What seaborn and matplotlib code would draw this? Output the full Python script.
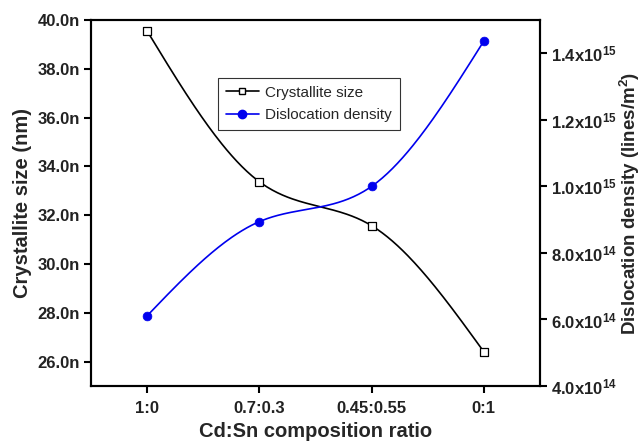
import numpy as np
import pandas as pd
import matplotlib
matplotlib.use("Agg")
import matplotlib.pyplot as plt
from matplotlib.lines import Line2D
from matplotlib.ticker import FuncFormatter, FixedLocator
import seaborn as sns

categories = ["1:0", "0.7:0.3", "0.45:0.55", "0:1"]
crystallite_nm = [39.55, 33.37, 31.57, 26.4]
dislocation = [6.11e14, 8.94e14, 1.0e15, 1.437e15]
left_ticks = [26, 28, 30, 32, 34, 36, 38, 40]
right_ticks = [4e14, 6e14, 8e14, 1.0e15, 1.2e15, 1.4e15]

sns.set_theme(style="ticks")
plt.rcParams["font.family"] = ["Liberation Sans", "DejaVu Sans"]
plt.rcParams["mathtext.default"] = "regular"


def natural_spline(x, y, n=200):
    x = np.asarray(x, float)
    y = np.asarray(y, float)
    k = len(x)
    h = np.diff(x)
    A = np.zeros((k, k))
    b = np.zeros(k)
    A[0, 0] = 1
    A[-1, -1] = 1
    for i in range(1, k - 1):
        A[i, i - 1] = h[i - 1]
        A[i, i] = 2 * (h[i - 1] + h[i])
        A[i, i + 1] = h[i]
        b[i] = 3 * ((y[i + 1] - y[i]) / h[i] - (y[i] - y[i - 1]) / h[i - 1])
    c = np.linalg.solve(A, b)
    xs = np.linspace(x[0], x[-1], n)
    ys = np.empty_like(xs)
    for j, xv in enumerate(xs):
        i = min(np.searchsorted(x, xv, side="right") - 1, k - 2)
        dx = xv - x[i]
        bi = (y[i + 1] - y[i]) / h[i] - h[i] * (2 * c[i] + c[i + 1]) / 3
        di = (c[i + 1] - c[i]) / (3 * h[i])
        ys[j] = y[i] + bi * dx + c[i] * dx ** 2 + di * dx ** 3
    return xs, ys


xpos = np.arange(len(categories))
df = pd.DataFrame({"x": xpos, "cryst": crystallite_nm, "disl": dislocation})

fig = plt.figure(figsize=(6.41, 4.44), dpi=100)
ax = fig.add_axes([91 / 641, 1 - 386 / 444, (540 - 91) / 641, (386 - 20) / 444])
ax2 = ax.twinx()

xs, ys = natural_spline(xpos, crystallite_nm)
sns.lineplot(x=xs, y=ys, ax=ax, color="black", lw=1.2, sort=False)
sns.scatterplot(data=df, x="x", y="cryst", ax=ax, marker="s", s=28,
                facecolor="white", edgecolor="black", linewidth=0.9, zorder=5)

xs2, ys2 = natural_spline(xpos, dislocation)
sns.lineplot(x=xs2, y=ys2, ax=ax2, color="#0000ee", lw=1.2, sort=False)
sns.scatterplot(data=df, x="x", y="disl", ax=ax2, marker="o", s=40,
                color="#0000ee", edgecolor="#0000ee", zorder=5)

ax.set_xlim(-0.5, 3.5)
ax.set_ylim(25, 40)
ax2.set_ylim(4e14, 1.5e15)

ax.set_xticks(xpos)
ax.set_xticklabels(categories)
ax.yaxis.set_major_locator(FixedLocator(left_ticks))
ax.yaxis.set_major_formatter(FuncFormatter(lambda v, p: f"{v:.1f}n"))
ax2.yaxis.set_major_locator(FixedLocator(right_ticks))


def sci(v, p):
    e = int(np.floor(np.log10(v) + 1e-9))
    m = v / 10 ** e
    return f"{m:.1f}x10$^{{{e}}}$"


ax2.yaxis.set_major_formatter(FuncFormatter(sci))

for a in (ax, ax2):
    for s in a.spines.values():
        s.set_linewidth(1.5)
        s.set_color("black")
    a.tick_params(axis="both", direction="out", length=5, width=1.5,
                  labelsize=12, colors="black", pad=3)
    for lab in a.get_xticklabels() + a.get_yticklabels():
        lab.set_fontweight("bold")
        lab.set_color("#222222")

ax.tick_params(axis="x", pad=6)
ax.set_xlabel("Cd:Sn composition ratio", fontsize=14.5, fontweight="bold", labelpad=4)
ax.set_ylabel("Crystallite size (nm)", fontsize=14.5, fontweight="bold", labelpad=4)
ax2.set_ylabel("Dislocation density (lines/m$^2$)", fontsize=13.5, fontweight="bold", labelpad=1)
ax.grid(False)
ax2.grid(False)

handles = [
    Line2D([], [], color="black", lw=1.2, marker="s", markersize=5,
           markerfacecolor="white", markeredgecolor="black"),
    Line2D([], [], color="#0000ee", lw=1.2, marker="o", markersize=6,
           markerfacecolor="#0000ee", markeredgecolor="#0000ee"),
]
leg = ax2.legend(handles, ["Crystallite size", "Dislocation density"],
                 loc="upper left", bbox_to_anchor=(218 / 641, 1 - 78 / 444),
                 bbox_transform=fig.transFigure, borderaxespad=0,
                 frameon=True, fancybox=False,
                 fontsize=11, handlelength=2.2, handletextpad=0.4,
                 borderpad=0.5, labelspacing=0.55, numpoints=1)
leg.get_frame().set_edgecolor("black")
leg.get_frame().set_linewidth(0.8)

fig.savefig("out.png", dpi=100)
